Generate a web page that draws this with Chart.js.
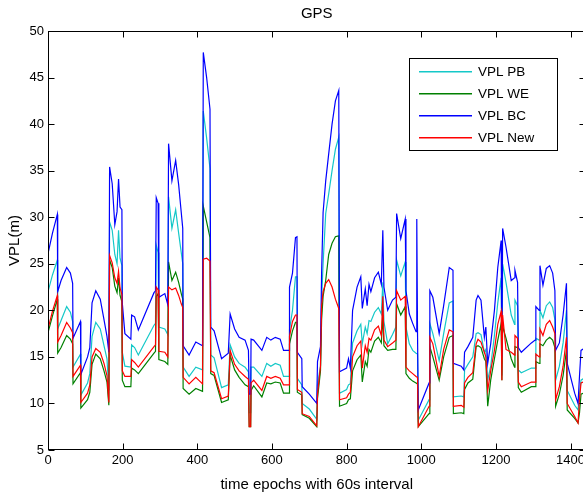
<!DOCTYPE html>
<html>
<head>
<meta charset="utf-8">
<script src="https://cdn.jsdelivr.net/npm/chart.js@4.4.0/dist/chart.umd.min.js"></script>
<style>
  html, body { margin: 0; padding: 0; background: #fff; overflow: hidden; }
  #wrap { width: 590px; height: 496px; }
</style>
</head>
<body>
<div id="wrap"><canvas id="chartGps" width="590" height="496"></canvas></div>
<script>
// epochs (60s steps) where the curves change
var epochs = [
  0, 12, 25, 26, 35, 50, 60, 66, 67, 87, 88, 106, 112, 118, 128, 140, 150, 158, 163, 165,
  172, 179, 185, 189, 193, 198, 199, 206, 222, 224, 232, 242, 284, 288, 290, 295, 297, 313, 321, 323,
  332, 342, 350, 357, 361, 362, 378, 396, 414, 416, 425, 434, 436, 445, 465, 483, 488, 500, 512, 528,
  537, 539, 543, 544, 551, 573, 586, 597, 609, 622, 631, 646, 647, 655, 663, 667, 668, 680, 681, 700,
  720, 722, 730, 733, 737, 744, 752, 761, 770, 779, 781, 800, 805, 810, 816, 828, 838, 842, 850, 855,
  860, 865, 875, 885, 893, 897, 900, 910, 923, 932, 934, 945, 957, 959, 968, 977, 986, 988, 990, 992,
  1021, 1023, 1031, 1048, 1060, 1075, 1085, 1086, 1107, 1114, 1116, 1125, 1138, 1147, 1152, 1160, 1169, 1173, 1178, 1186,
  1196, 1205, 1214, 1216, 1218, 1227, 1241, 1250, 1251, 1258, 1260, 1268, 1295, 1305, 1307, 1316, 1318, 1326, 1335, 1344,
  1352, 1358, 1360, 1370, 1380, 1389, 1391, 1411, 1420, 1424, 1428, 1440
];

var vplBC = [
  26.1, 28.3, 30.3, 22.0, 23.2, 24.6, 24.0, 22.9, 17.0, 18.8, 13.1, 15.0, 16.0, 20.8, 22.1, 21.2, 19.0, 17.2, 15.5, 35.4,
  33.6, 29.2, 30.6, 34.1, 31.1, 30.8, 20.8, 17.5, 16.9, 19.5, 19.3, 17.9, 21.9, 22.1, 32.1, 31.5, 21.4, 21.8, 20.6, 37.9,
  33.9, 36.1, 33.5, 30.5, 28.8, 16.2, 15.2, 16.6, 16.2, 47.7, 45.0, 41.6, 18.2, 17.8, 14.8, 15.4, 19.6, 18.0, 17.1, 16.8,
  15.7, 11.0, 11.0, 16.9, 16.8, 15.7, 17.1, 16.8, 17.1, 16.9, 15.7, 15.7, 22.5, 24.0, 27.8, 27.9, 15.5, 14.8, 11.8, 11.0,
  10.0, 14.5, 16.1, 24.0, 30.5, 33.9, 36.8, 40.0, 42.5, 43.6, 13.4, 13.8, 14.8, 13.8, 20.0, 22.5, 23.6, 20.2, 22.3, 20.5,
  22.8, 22.0, 23.5, 24.1, 22.8, 28.6, 22.5, 20.0, 21.1, 21.4, 30.4, 27.7, 29.8, 22.1, 19.6, 18.6, 17.7, 29.8, 17.5, 9.3,
  12.2, 22.1, 21.4, 17.5, 20.5, 24.6, 24.3, 14.3, 14.0, 13.6, 15.5, 16.1, 17.1, 21.1, 21.6, 21.1, 17.1, 18.2, 14.3, 16.4,
  20.0, 24.6, 27.5, 15.0, 28.8, 26.8, 23.2, 23.5, 24.3, 23.0, 16.0, 15.5, 16.5, 16.8, 20.4, 20.0, 24.8, 22.7, 24.5, 24.8,
  24.0, 22.1, 15.7, 16.5, 19.5, 22.9, 14.3, 11.1, 10.0, 13.0, 15.7, 16.0
];

var vplPB = [
  22.0, 23.8, 25.4, 18.0, 18.9, 20.4, 19.8, 18.8, 13.9, 15.3, 10.9, 12.2, 13.2, 17.2, 18.7, 18.0, 16.2, 14.8, 11.4, 29.5,
  28.6, 26.0, 25.0, 28.6, 25.6, 24.8, 15.5, 14.0, 13.9, 16.3, 16.0, 15.2, 18.4, 18.6, 27.0, 26.2, 18.2, 18.0, 17.4, 32.2,
  28.8, 30.8, 28.3, 26.2, 25.0, 13.9, 12.9, 13.9, 13.6, 41.4, 38.5, 35.2, 15.2, 14.9, 11.7, 12.0, 16.3, 15.0, 14.3, 13.9,
  13.4, 9.0, 9.0, 13.9, 13.9, 12.9, 14.3, 14.0, 14.3, 14.1, 12.9, 12.9, 17.9, 20.0, 23.6, 23.6, 12.7, 12.0, 10.0, 9.4,
  8.3, 12.0, 14.0, 21.0, 25.0, 30.4, 32.5, 35.0, 37.3, 38.6, 11.1, 11.5, 12.0, 12.1, 16.5, 17.8, 18.5, 16.4, 18.2, 17.5,
  18.9, 18.8, 19.8, 20.3, 19.6, 23.0, 18.8, 16.4, 17.4, 18.2, 25.4, 23.7, 25.2, 18.2, 16.4, 15.7, 15.4, 15.4, 15.3, 8.2,
  10.4, 18.6, 17.5, 14.6, 17.5, 20.8, 21.0, 10.7, 10.8, 10.7, 13.6, 14.2, 15.0, 17.5, 17.6, 17.4, 15.5, 15.8, 12.5, 14.0,
  17.3, 20.8, 23.5, 13.0, 25.0, 23.0, 19.5, 18.5, 21.1, 20.5, 13.6, 13.3, 13.8, 13.8, 17.0, 16.8, 20.0, 19.2, 20.5, 20.9,
  20.3, 19.0, 12.5, 14.0, 16.5, 20.0, 11.4, 9.8, 9.3, 11.0, 12.5, 12.8
];

var vplWE = [
  17.6, 19.4, 21.2, 15.4, 16.0, 17.3, 16.9, 16.4, 12.1, 13.3, 9.5, 10.4, 11.2, 14.2, 15.3, 14.8, 13.5, 12.3, 9.8, 25.4,
  24.6, 22.6, 21.9, 23.5, 21.6, 20.9, 12.5, 11.8, 11.8, 13.8, 13.6, 13.2, 15.4, 15.6, 21.5, 21.8, 14.7, 14.5, 14.2, 25.2,
  23.2, 24.1, 23.0, 21.8, 21.2, 11.6, 11.0, 11.6, 11.3, 31.2, 29.5, 27.8, 13.2, 13.0, 10.1, 10.4, 15.2, 13.6, 12.8, 12.0,
  11.8, 7.5, 7.5, 11.4, 11.9, 10.7, 12.2, 12.1, 12.3, 12.2, 11.1, 11.1, 16.4, 17.8, 18.7, 18.7, 11.2, 10.9, 8.8, 8.4,
  7.5, 10.5, 13.5, 19.0, 21.5, 23.2, 26.0, 27.2, 27.9, 28.0, 9.7, 10.0, 10.4, 10.5, 13.5, 14.7, 15.2, 12.3, 14.5, 14.0,
  15.8, 15.5, 16.7, 17.1, 16.5, 19.5, 16.2, 15.7, 15.8, 15.8, 20.7, 19.5, 20.4, 13.2, 12.7, 12.4, 12.2, 12.2, 12.1, 7.5,
  8.9, 16.1, 15.0, 12.5, 15.0, 17.1, 17.3, 8.9, 9.0, 8.9, 11.5, 12.2, 12.6, 16.1, 16.2, 16.0, 14.8, 14.5, 9.7, 12.5,
  14.8, 16.8, 18.6, 12.5, 18.3, 17.0, 14.8, 13.9, 16.1, 16.0, 11.7, 11.2, 11.8, 11.8, 14.5, 14.3, 16.4, 16.2, 16.8, 17.1,
  16.8, 16.0, 9.7, 11.0, 13.0, 15.7, 9.3, 8.4, 7.9, 9.0, 11.0, 11.2
];

var vplNew = [
  18.0, 19.9, 21.6, 16.6, 17.3, 18.7, 18.1, 17.6, 12.9, 14.1, 10.1, 11.1, 12.0, 15.0, 15.9, 15.5, 14.3, 13.0, 10.1, 25.9,
  25.1, 23.5, 22.9, 24.2, 22.4, 21.7, 13.5, 12.9, 12.9, 14.7, 14.4, 13.9, 16.1, 16.3, 22.5, 22.2, 15.6, 15.5, 15.0, 22.5,
  22.2, 22.4, 21.6, 20.7, 20.3, 12.8, 12.1, 12.8, 12.1, 25.5, 25.6, 25.3, 13.5, 13.3, 10.5, 10.8, 15.7, 14.2, 13.5, 12.9,
  12.6, 7.5, 7.5, 12.2, 12.5, 11.4, 12.9, 12.7, 12.9, 12.7, 12.0, 12.0, 17.2, 18.8, 19.5, 19.5, 11.5, 11.2, 8.9, 8.6,
  7.6, 11.0, 14.0, 20.5, 22.0, 22.9, 23.3, 22.5, 21.2, 20.2, 10.4, 10.6, 11.0, 11.2, 15.0, 16.2, 16.7, 13.8, 16.2, 15.5,
  17.0, 16.8, 17.9, 18.3, 17.3, 21.5, 16.8, 16.1, 16.5, 16.8, 22.1, 21.1, 21.5, 13.9, 13.5, 13.2, 12.9, 12.9, 12.8, 7.5,
  9.7, 17.1, 16.4, 12.9, 15.8, 17.9, 17.7, 9.7, 9.8, 9.6, 12.2, 12.8, 13.3, 16.4, 16.9, 16.6, 15.5, 15.0, 11.4, 13.5,
  15.7, 18.5, 19.9, 12.5, 19.5, 15.8, 15.5, 15.2, 17.3, 17.0, 12.3, 11.8, 12.3, 12.3, 15.3, 15.0, 18.0, 17.3, 18.5, 18.9,
  18.2, 17.5, 10.4, 11.8, 14.0, 17.1, 10.0, 8.6, 7.9, 10.5, 12.2, 12.4
];

var seriesNames = ['VPL PB', 'VPL WE', 'VPL BC', 'VPL New'];
var seriesColors = ['rgb(20,200,200)', 'rgb(0,128,0)', 'rgb(0,0,255)', 'rgb(255,0,0)'];
var xTicks = [0, 200, 400, 600, 800, 1000, 1200, 1400];
var yTicks = [5, 10, 15, 20, 25, 30, 35, 40, 45, 50];

var fontFamily = '"Liberation Sans", Arial, Helvetica, sans-serif';

function toPoints(values) {
  return epochs.map(function (e, i) {
    return { x: e, y: values[i] };
  });
}

// matlab style box, inward ticks and the boxed legend
var matlabFrame = {
  id: 'matlabFrame',
  afterDatasetsDraw: function (chart) {
    var ctx = chart.ctx;
    var area = chart.chartArea;
    var xs = chart.scales.x;
    var ys = chart.scales.y;
    var L = Math.round(area.left) + 0.5;
    var R = Math.round(area.right) - 0.5;
    var T = Math.round(area.top) + 0.5;
    var B = Math.round(area.bottom) - 0.5;

    ctx.save();
    ctx.strokeStyle = '#000';
    ctx.lineWidth = 1;
    ctx.strokeRect(L, T, R - L, B - T);

    ctx.beginPath();
    xTicks.forEach(function (v) {
      var px = Math.round(xs.getPixelForValue(v)) + 0.5;
      ctx.moveTo(px, B);
      ctx.lineTo(px, B - 6);
      ctx.moveTo(px, T);
      ctx.lineTo(px, T + 6);
    });
    yTicks.forEach(function (v) {
      var py = Math.round(ys.getPixelForValue(v)) + 0.5;
      ctx.moveTo(L, py);
      ctx.lineTo(L + 6, py);
      ctx.moveTo(R, py);
      ctx.lineTo(R - 6, py);
    });
    ctx.stroke();

    // legend box
    var bx = 409.5, by = 58.5, bw = 148, bh = 92;
    ctx.fillStyle = '#fff';
    ctx.fillRect(bx, by, bw, bh);
    ctx.strokeStyle = '#000';
    ctx.lineWidth = 1;
    ctx.strokeRect(bx, by, bw, bh);
    ctx.font = '13.5px ' + fontFamily;
    ctx.textBaseline = 'middle';
    ctx.textAlign = 'left';
    for (var i = 0; i < seriesNames.length; i++) {
      var ly = 71 + i * 22;
      ctx.fillStyle = seriesColors[i];
      ctx.fillRect(419, ly, 53, 1.5);
      ctx.fillStyle = '#000';
      ctx.fillText(seriesNames[i], 478, ly + 1);
    }
    ctx.restore();
  }
};

var drawOrder = [3, 2, 1, 0];
var allValues = [vplPB, vplWE, vplBC, vplNew];

var datasets = seriesNames.map(function (name, i) {
  return {
    label: name,
    data: toPoints(allValues[i]),
    borderColor: seriesColors[i],
    backgroundColor: seriesColors[i],
    borderWidth: 1.2,
    pointRadius: 0,
    tension: 0,
    fill: false,
    order: drawOrder[i]
  };
});

var configLine = {
  type: 'line',
  data: { datasets: datasets },
  options: {
    responsive: false,
    animation: false,
    layout: { padding: { left: 0, right: 4.5, top: 0, bottom: 0 } },
    plugins: {
      legend: { display: false },
      tooltip: { enabled: false },
      title: {
        display: true,
        text: 'GPS',
        color: '#000',
        fullSize: false,
        font: { family: fontFamily, size: 15, weight: 'normal' },
        padding: { top: 5, bottom: 8 }
      }
    },
    scales: {
      x: {
        type: 'linear',
        min: 0,
        max: 1440,
        afterBuildTicks: function (scale) {
          scale.ticks = xTicks.map(function (v) { return { value: v }; });
        },
        afterFit: function (scale) { scale.height = 46; },
        ticks: {
          autoSkip: false,
          maxRotation: 0,
          padding: 3,
          color: '#000',
          font: { family: fontFamily, size: 13 },
          callback: function (value) { return String(value); }
        },
        grid: { display: false, drawTicks: false },
        border: { display: false },
        title: {
          display: true,
          text: 'time epochs with 60s interval',
          color: '#000',
          font: { family: fontFamily, size: 15 },
          padding: { top: 0, bottom: 2 }
        }
      },
      y: {
        type: 'linear',
        min: 5,
        max: 50,
        afterBuildTicks: function (scale) {
          scale.ticks = yTicks.map(function (v) { return { value: v }; });
        },
        afterFit: function (scale) { scale.width = 48; },
        ticks: {
          padding: 4,
          color: '#000',
          font: { family: fontFamily, size: 13 },
          callback: function (value) { return String(value); }
        },
        grid: { display: false, drawTicks: false },
        border: { display: false },
        title: {
          display: true,
          text: 'VPL(m)',
          color: '#000',
          font: { family: fontFamily, size: 15 },
          padding: { top: 6, bottom: 0 }
        }
      }
    }
  },
  plugins: [matlabFrame]
};

var chartGps = new Chart(document.getElementById('chartGps'), configLine);
</script>
</body>
</html>
